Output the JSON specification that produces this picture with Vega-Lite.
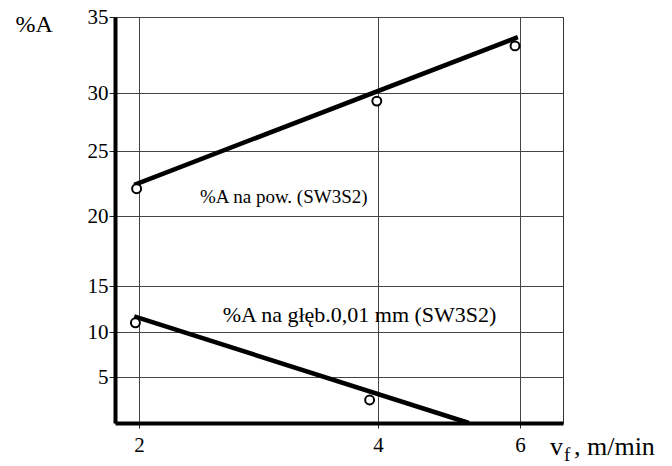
{
  "$schema": "https://vega.github.io/schema/vega-lite/v6.json",
  "autosize": {"type": "none"},
  "width": 448,
  "height": 406,
  "padding": {"left": 115, "top": 17, "right": 109, "bottom": 43},
  "background": "white",
  "config": {
    "view": {"stroke": "#333", "strokeWidth": 1},
    "font": "Times New Roman, Liberation Serif, serif",
    "text": {"font": "Times New Roman, Liberation Serif, serif"},
    "axis": {
      "domainColor": "black",
      "domainWidth": 4,
      "tickColor": "#222",
      "tickWidth": 1,
      "tickSize": 5,
      "gridColor": "#444",
      "gridWidth": 1,
      "gridOpacity": 1,
      "labelFont": "Times New Roman, Liberation Serif, serif",
      "labelFontSize": 21,
      "labelColor": "black",
      "titleFont": "Times New Roman, Liberation Serif, serif",
      "titleColor": "black"
    }
  },
  "datasets": {
    "lines": [
      {"series": "pow", "x": 1.96, "y": 22.4},
      {"series": "pow", "x": 5.97, "y": 33.67},
      {"series": "gleb", "x": 1.96, "y": 11.7},
      {"series": "gleb", "x": 5.28, "y": 0}
    ],
    "points": [
      {"series": "pow", "x": 1.98, "y": 22.1},
      {"series": "pow", "x": 3.99, "y": 29.3},
      {"series": "pow", "x": 5.93, "y": 33.1},
      {"series": "gleb", "x": 1.97, "y": 11.0},
      {"series": "gleb", "x": 3.93, "y": 2.5}
    ],
    "label1": [
      {"t": "%A na pow. (SW3S2)", "x": 2.51, "y": 21.0}
    ],
    "label2": [
      {"t": "%A na głęb.0,01 mm (SW3S2)", "x": 2.70, "y": 11.07}
    ],
    "xtitle": [
      {"t": "v", "x": 6.42, "y": -3.51},
      {"t": ", m/min", "x": 6.753, "y": -3.51}
    ],
    "xsub": [
      {"t": "f", "x": 6.614, "y": -4.16}
    ]
  },
  "layer": [
    {
      "data": {"name": "lines"},
      "mark": {"type": "line", "color": "black", "strokeWidth": 4.5, "strokeCap": "butt"},
      "encoding": {
        "x": {
          "field": "x", "type": "quantitative",
          "scale": {"domain": [1.8, 2, 4, 6, 6.6], "range": [0, 24, 263, 405, 448], "zero": false, "nice": false},
          "axis": {"values": [2, 4, 6], "format": "d", "grid": true, "title": null, "labelPadding": 6, "labelFontSize": 21}
        },
        "y": {
          "field": "y", "type": "quantitative",
          "scale": {"domain": [0, 5, 10, 15, 20, 25, 30, 35], "range": [406, 360, 315, 269, 199, 134, 76, 0], "zero": false, "nice": false},
          "axis": {
            "values": [5, 10, 15, 20, 25, 30, 35], "format": "d", "grid": true, "labelPadding": 1, "tickSize": 6,
            "title": "%A", "titleAngle": 0, "titleAlign": "left", "titleBaseline": "alphabetic",
            "titleX": -100, "titleY": 14, "titleFontSize": 24, "titleFontWeight": "normal"
          }
        },
        "detail": {"field": "series"}
      }
    },
    {
      "data": {"name": "points"},
      "mark": {"type": "point", "shape": "circle", "filled": false, "fill": "white", "fillOpacity": 1, "stroke": "black", "strokeWidth": 2, "size": 80, "opacity": 1},
      "encoding": {
        "x": {"field": "x", "type": "quantitative"},
        "y": {"field": "y", "type": "quantitative"}
      }
    },
    {
      "data": {"name": "label1"},
      "mark": {"type": "text", "align": "left", "baseline": "alphabetic", "fontSize": 19, "font": "Times New Roman, Liberation Serif, serif", "color": "black"},
      "encoding": {
        "x": {"field": "x", "type": "quantitative"},
        "y": {"field": "y", "type": "quantitative"},
        "text": {"field": "t"}
      }
    },
    {
      "data": {"name": "label2"},
      "mark": {"type": "text", "align": "left", "baseline": "alphabetic", "fontSize": 22, "font": "Times New Roman, Liberation Serif, serif", "color": "black"},
      "encoding": {
        "x": {"field": "x", "type": "quantitative"},
        "y": {"field": "y", "type": "quantitative"},
        "text": {"field": "t"}
      }
    },
    {
      "data": {"name": "xtitle"},
      "mark": {"type": "text", "align": "left", "baseline": "alphabetic", "fontSize": 26, "font": "Times New Roman, Liberation Serif, serif", "color": "black"},
      "encoding": {
        "x": {"field": "x", "type": "quantitative"},
        "y": {"field": "y", "type": "quantitative"},
        "text": {"field": "t"}
      }
    },
    {
      "data": {"name": "xsub"},
      "mark": {"type": "text", "align": "left", "baseline": "alphabetic", "fontSize": 19, "font": "Times New Roman, Liberation Serif, serif", "color": "black"},
      "encoding": {
        "x": {"field": "x", "type": "quantitative"},
        "y": {"field": "y", "type": "quantitative"},
        "text": {"field": "t"}
      }
    }
  ]
}
